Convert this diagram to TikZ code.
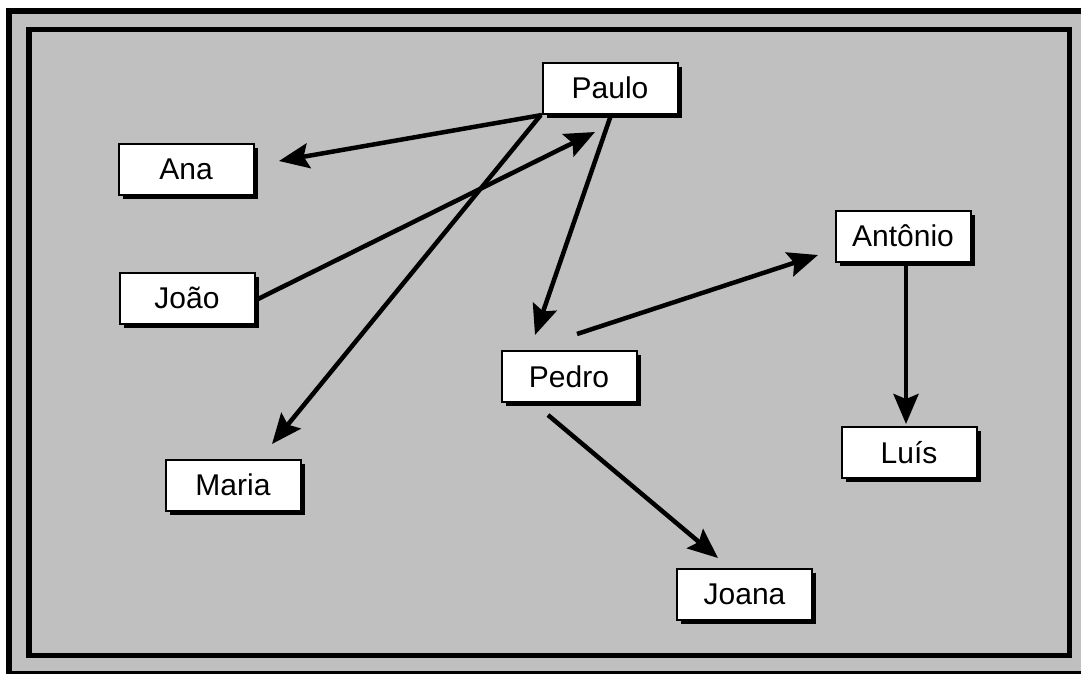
\documentclass[tikz,border=0pt]{standalone}
\usepackage{fontspec}
\setmainfont{Liberation Sans}
\usetikzlibrary{arrows.meta,shadows}
\definecolor{bggray}{RGB}{192,192,192}
\begin{document}
\begin{tikzpicture}[x=1pt,y=-1pt,
  namebox/.style={draw=black,line width=2pt,fill=white,rectangle,
    minimum width=135pt,minimum height=51pt,inner sep=0pt,
    font=\fontsize{30}{35}\selectfont,
    drop shadow={shadow xshift=4pt,shadow yshift=-4pt,fill=black,opacity=1}},
  link/.style={line width=4.5pt,-{Stealth[length=30pt,width=25pt,inset=5pt]}}]
\useasboundingbox (0,0) rectangle (1081,673);
\fill[white] (0,0) rectangle (1081,673);
\begin{scope}
\clip (0,0) rectangle (1081,673);
\draw[line width=6pt,fill=bggray] (9,11) rectangle (1086,674);
\end{scope}
\draw[line width=5.5pt] (29,29.5) rectangle (1069.5,655.5);
\node[namebox] (paulo) at (610,88) {Paulo};
\node[namebox] (ana) at (186,169) {Ana};
\node[namebox] (joao) at (187,298) {João};
\node[namebox] (pedro) at (569,376.5) {Pedro};
\node[namebox] (antonio) at (903,236) {Antônio};
\node[namebox] (luis) at (909,452.5) {Luís};
\node[namebox] (maria) at (233,485) {Maria};
\node[namebox] (joana) at (744.5,594.5) {Joana};
\coordinate (pA) at (542,115);
\coordinate (aIn) at (279,161);
\coordinate (jOut) at (258,299);
\coordinate (pIn) at (595,132);
\coordinate (pM) at (540,116);
\coordinate (mIn) at (272,444);
\coordinate (pP) at (611,115);
\coordinate (peIn) at (535,335);
\coordinate (peA) at (577,334);
\coordinate (anIn) at (818,255);
\coordinate (peJ) at (548,415);
\coordinate (joIn) at (718,558);
\coordinate (anL) at (906,264);
\coordinate (lIn) at (906,424);
\draw[link] (pA) -- (aIn);
\draw[link] (jOut) -- (pIn);
\draw[link] (pM) -- (mIn);
\draw[link] (pP) -- (peIn);
\draw[link] (peA) -- (anIn);
\draw[link] (peJ) -- (joIn);
\draw[link] (anL) -- (lIn);
\end{tikzpicture}
\end{document}
